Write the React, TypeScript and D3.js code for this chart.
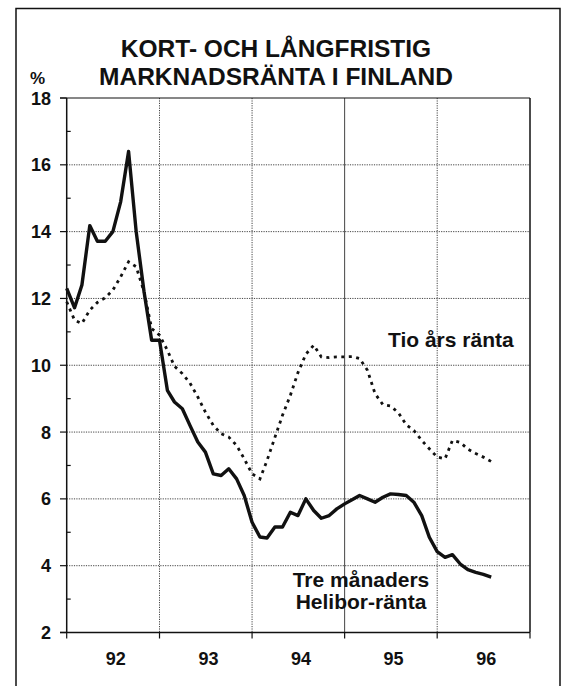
import React from "react";
import * as d3 from "d3";

const months = [
  "1992-01","1992-02","1992-03","1992-04","1992-05","1992-06","1992-07","1992-08","1992-09","1992-10","1992-11","1992-12",
  "1993-01","1993-02","1993-03","1993-04","1993-05","1993-06","1993-07","1993-08","1993-09","1993-10","1993-11","1993-12",
  "1994-01","1994-02","1994-03","1994-04","1994-05","1994-06","1994-07","1994-08","1994-09","1994-10","1994-11","1994-12",
  "1995-01","1995-02","1995-03","1995-04","1995-05","1995-06","1995-07","1995-08","1995-09","1995-10","1995-11","1995-12",
  "1996-01","1996-02","1996-03","1996-04","1996-05","1996-06","1996-07","1996-08",
];

// Tre månaders Helibor-ränta (solid)
const helibor = [
  12.3, 11.72, 12.4, 14.18, 13.71, 13.71, 14.0, 14.9, 16.4, 14.0, 12.2, 10.75,
  10.75, 9.25, 8.9, 8.7, 8.2, 7.7, 7.4, 6.75, 6.7, 6.9, 6.6, 6.1,
  5.3, 4.86, 4.83, 5.16, 5.16, 5.6, 5.5, 6.0, 5.65, 5.42, 5.5, 5.7,
  5.85, 5.98, 6.1, 6.0, 5.9, 6.05, 6.15, 6.13, 6.1, 5.9, 5.5, 4.85,
  4.42, 4.25, 4.33, 4.05, 3.88, 3.8, 3.74, 3.66,
];

// Tio års ränta (dotted)
const tioAr = [
  11.9, 11.35, 11.25, 11.65, 11.88, 12.02, 12.25, 12.65, 13.1, 12.95, 12.2, 11.1,
  10.9, 10.45, 9.97, 9.75, 9.47, 9.05, 8.6, 8.2, 7.95, 7.85, 7.6, 7.2,
  6.75, 6.6, 7.15, 7.84, 8.5, 9.1, 9.78, 10.33, 10.6, 10.25, 10.23, 10.25,
  10.25, 10.26, 10.2, 9.85, 9.15, 8.82, 8.78, 8.58, 8.22, 8.05, 7.75, 7.5,
  7.25, 7.2, 7.75, 7.69, 7.49, 7.36, 7.25, 7.12,
];

const yearLabels = ["92", "93", "94", "95", "96"];
const yearStarts = [1992, 1993, 1994, 1995, 1996, 1997];
const yTicks = [2, 4, 6, 8, 10, 12, 14, 16, 18];
const yMinorTicks = [3, 5, 7, 9, 11, 13, 15, 17];

const titleLines = ["KORT- OCH LÅNGFRISTIG", "MARKNADSRÄNTA I FINLAND"];
const FONT = "'Liberation Sans', Arial, Helvetica, sans-serif";

export default function App() {
  const W = 565, H = 686;
  const left = 66.7, right = 530, top = 98, bottom = 632.5;
  const parse = d3.timeParse("%Y-%m");
  const dates = months.map((m) => parse(m) as Date);

  const x = d3.scaleTime()
    .domain([new Date(1992, 0, 1), new Date(1997, 0, 1)])
    .range([left, right]);
  const y = d3.scaleLinear().domain([2, 18]).range([bottom, top]);

  const line = d3.line<number>()
    .x((_, i) => x(dates[i]))
    .y((d) => y(d));

  return (
    <svg
      width={W}
      height={H}
      style={{ position: "absolute", left: 0, top: 0, background: "#fff" }}
      fontFamily={FONT}
    >
      <rect x={0} y={0} width={W} height={H} fill="#fff" />
      {/* outer frame */}
      <path d={`M16,${H} L16,8.5 L560,8.5 L560,${H}`} fill="none" stroke="#111" strokeWidth={1.5} />

      {/* title */}
      {titleLines.map((t, i) => (
        <text key={t} x={276} y={57 + i * 27.5} textAnchor="middle" fontSize={24.5} fontWeight="bold" fill="#111">
          {t}
        </text>
      ))}
      <text x={30} y={84} fontSize={17} fontWeight="bold" fill="#111">%</text>

      {/* horizontal grid */}
      {yTicks.filter((v) => v !== 2 && v !== 18).map((v) => (
        <line key={"hg" + v} x1={left} x2={right} y1={y(v)} y2={y(v)} stroke="#444" strokeWidth={1} strokeDasharray="1.2,1.2" />
      ))}
      {/* vertical grid */}
      {yearStarts.slice(1, 5).map((yr) => (
        <line
          key={"vg" + yr}
          x1={x(new Date(yr, 0, 1))}
          x2={x(new Date(yr, 0, 1))}
          y1={top}
          y2={bottom}
          stroke="#444"
          strokeWidth={1}
          strokeDasharray={yr === 1995 ? undefined : "1.2,1.2"}
        />
      ))}

      {/* plot frame */}
      <line x1={60} x2={right} y1={top} y2={top} stroke="#111" strokeWidth={1.2} />
      <line x1={60} x2={right} y1={bottom} y2={bottom} stroke="#111" strokeWidth={1.5} />
      <line x1={left} x2={left} y1={top} y2={bottom} stroke="#111" strokeWidth={1.5} />
      <line x1={right} x2={right} y1={top} y2={bottom} stroke="#111" strokeWidth={1.5} />

      {/* y ticks */}
      {yTicks.map((v) => (
        <g key={"yt" + v}>
          <line x1={60} x2={left} y1={y(v)} y2={y(v)} stroke="#111" strokeWidth={1.2} />
          <text x={51} y={y(v) + 6.5} textAnchor="end" fontSize={18} fontWeight="bold" fill="#111">{v}</text>
        </g>
      ))}
      {yMinorTicks.map((v) => (
        <line key={"ym" + v} x1={left} x2={left + 4} y1={y(v)} y2={y(v)} stroke="#111" strokeWidth={1.2} />
      ))}

      {/* x ticks */}
      {yearStarts.map((yr) => (
        <line key={"xt" + yr} x1={x(new Date(yr, 0, 1))} x2={x(new Date(yr, 0, 1))} y1={bottom} y2={bottom + 6} stroke="#111" strokeWidth={1.2} />
      ))}
      {yearLabels.map((lab, i) => (
        <text
          key={"xl" + lab}
          x={x(new Date(yearStarts[i], 6, 1)) + 3}
          y={665}
          textAnchor="middle"
          fontSize={18}
          fontWeight="bold"
          fill="#111"
        >
          {lab}
        </text>
      ))}

      {/* series */}
      <path d={line(tioAr) || ""} fill="none" stroke="#111" strokeWidth={2.8} strokeDasharray="3,4.5" strokeLinecap="butt" />
      <path d={line(helibor) || ""} fill="none" stroke="#111" strokeWidth={3.4} strokeLinejoin="round" />

      {/* annotations */}
      <text x={388} y={346.5} fontSize={21} fontWeight="bold" fill="#111">Tio års ränta</text>
      <text x={361} y={586.5} textAnchor="middle" fontSize={21} fontWeight="bold" fill="#111">Tre månaders</text>
      <text x={361} y={608.5} textAnchor="middle" fontSize={21} fontWeight="bold" fill="#111">Helibor-ränta</text>
    </svg>
  );
}
